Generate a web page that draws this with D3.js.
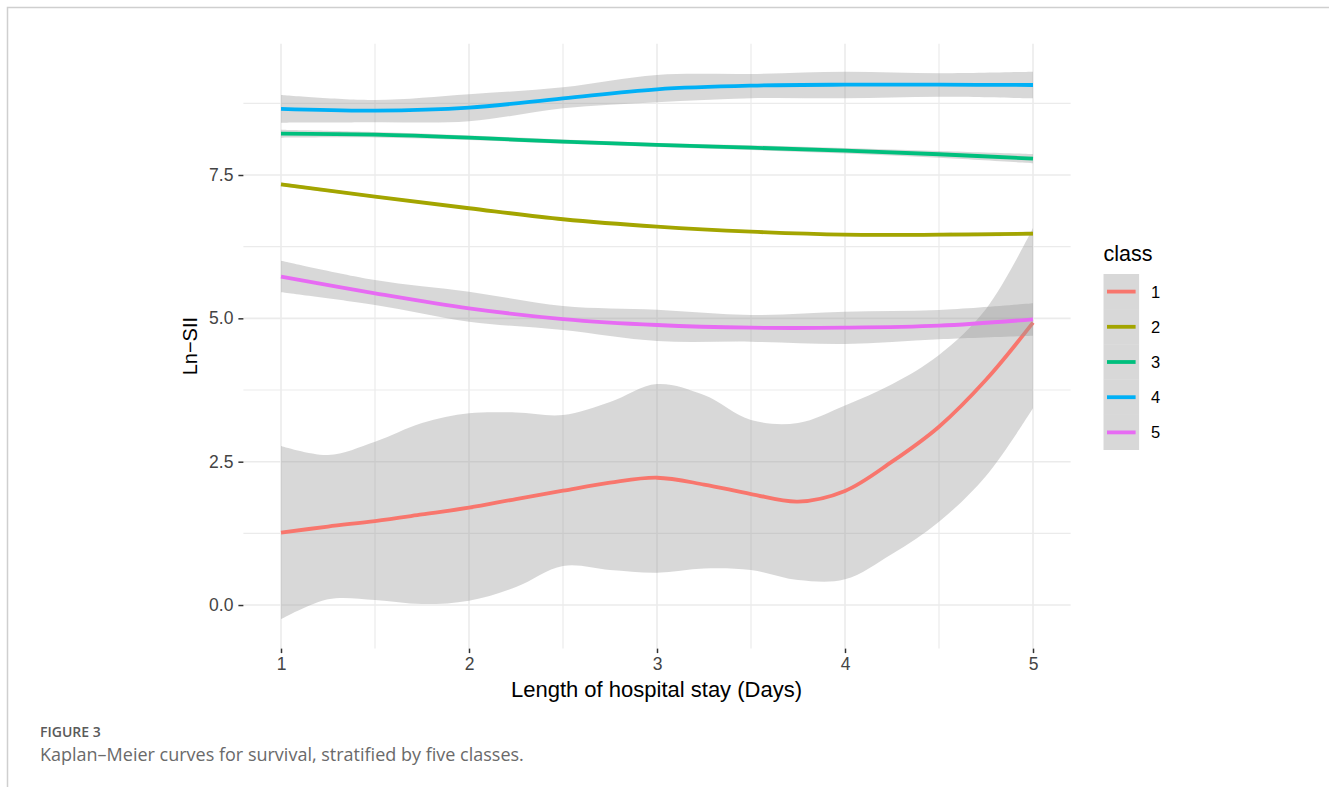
<!DOCTYPE html>
<html>
<head>
<meta charset="utf-8">
<script src="https://cdn.jsdelivr.net/npm/d3@7"></script>
<style>
  html, body { margin: 0; padding: 0; background: #fff; }
  svg { display: block; }
</style>
</head>
<body>
<svg id="chart" width="1329" height="787"></svg>
<script>
// ---------- data ----------
const classes = ["1", "2", "3", "4", "5"];
const colors = ["#F8766D", "#A3A500", "#00BF7D", "#00B0F6", "#E76BF3"];

const daysCoarse = [1, 1.5, 2, 2.5, 3, 3.5, 4, 4.5, 5];
const daysFine = [1, 1.25, 1.5, 1.75, 2, 2.25, 2.5, 2.75, 3, 3.25, 3.5, 3.75, 4, 4.25, 4.5, 4.75, 5];

// class 1 (fine grid)
const fit1 = [1.261, 1.369, 1.465, 1.579, 1.697, 1.849, 1.994, 2.133, 2.220, 2.102, 1.936, 1.805, 1.990, 2.500, 3.110, 3.928, 4.924];
const hi1  = [2.773, 2.616, 2.848, 3.175, 3.344, 3.358, 3.314, 3.541, 3.855, 3.663, 3.227, 3.175, 3.480, 3.850, 4.361, 5.163, 6.576];
const lo1  = [-0.249, 0.099, 0.087, 0.017, 0.075, 0.314, 0.680, 0.610, 0.563, 0.637, 0.610, 0.436, 0.448, 0.890, 1.453, 2.250, 3.431];

// class 2
const fit2 = [7.338, 7.122, 6.920, 6.728, 6.599, 6.511, 6.459, 6.459, 6.476];
const hi2  = [7.370, 7.145, 6.940, 6.750, 6.620, 6.535, 6.485, 6.490, 6.510];
const lo2  = [7.305, 7.100, 6.900, 6.705, 6.578, 6.487, 6.433, 6.428, 6.440];

// class 3
const fit3 = [8.221, 8.203, 8.151, 8.081, 8.024, 7.977, 7.924, 7.862, 7.785];
const hi3  = [8.290, 8.250, 8.190, 8.120, 8.060, 8.020, 7.970, 7.920, 7.865];
const lo3  = [8.150, 8.155, 8.110, 8.045, 7.990, 7.935, 7.875, 7.800, 7.705];

// class 4
const fit4 = [8.652, 8.622, 8.674, 8.838, 8.995, 9.058, 9.075, 9.075, 9.070];
const hi4  = [8.896, 8.809, 8.908, 9.030, 9.245, 9.263, 9.302, 9.274, 9.302];
const lo4  = [8.413, 8.420, 8.437, 8.664, 8.768, 8.838, 8.838, 8.866, 8.838];

// class 5
const fit5 = [5.726, 5.437, 5.175, 4.988, 4.884, 4.837, 4.837, 4.872, 4.983];
const hi5  = [6.006, 5.669, 5.465, 5.216, 5.151, 5.058, 5.116, 5.146, 5.263];
const lo5  = [5.454, 5.233, 4.942, 4.797, 4.605, 4.593, 4.553, 4.635, 4.697];

const xTicks = [1, 2, 3, 4, 5];
const xMinor = [1.5, 2.5, 3.5, 4.5];
const yTicks = [0, 2.5, 5.0, 7.5];
const yTickLabels = ["0.0", "2.5", "5.0", "7.5"];
const yMinor = [1.25, 3.75, 6.25, 8.75];

const xTitle = "Length of hospital stay (Days)";
const yTitle = "Ln\u2212SII";
const legendTitle = "class";
const figLabel = "FIGURE 3";
const figCaption = "Kaplan\u2013Meier curves for survival, stratified by five classes.";

// ---------- build series ----------
function build(days, fit, hi, lo) {
  return days.map((d, i) => ({ x: d, y: fit[i], hi: hi[i], lo: lo[i] }));
}
const series = [
  build(daysFine, fit1, hi1, lo1),
  build(daysCoarse, fit2, hi2, lo2),
  build(daysCoarse, fit3, hi3, lo3),
  build(daysCoarse, fit4, hi4, lo4),
  build(daysCoarse, fit5, hi5, lo5)
];

// ---------- layout ----------
const svg = d3.select("#chart");
const panel = { left: 243.4, right: 1070.6, top: 43.7, bottom: 648.6 };
const FONT = "'Liberation Sans', Arial, sans-serif";

const x = d3.scaleLinear().domain([0.8, 5.2]).range([panel.left, panel.right]);
const y = d3.scaleLinear().domain([-0.76, 9.79]).range([panel.bottom, panel.top]);

// figure frame
svg.append("path")
  .attr("d", "M7.5,787 L7.5,7.5 L1329,7.5")
  .attr("fill", "none").attr("stroke", "#cfcfcf").attr("stroke-width", 1.5);

// grid
const grid = svg.append("g");
grid.selectAll(".ymin").data(yMinor).join("line")
  .attr("x1", panel.left).attr("x2", panel.right)
  .attr("y1", d => y(d)).attr("y2", d => y(d))
  .attr("stroke", "#ebebeb").attr("stroke-width", 1.2);
grid.selectAll(".xmin").data(xMinor).join("line")
  .attr("y1", panel.top).attr("y2", panel.bottom)
  .attr("x1", d => x(d)).attr("x2", d => x(d))
  .attr("stroke", "#ebebeb").attr("stroke-width", 1.2);
grid.selectAll(".ymaj").data(yTicks).join("line")
  .attr("x1", panel.left).attr("x2", panel.right)
  .attr("y1", d => y(d)).attr("y2", d => y(d))
  .attr("stroke", "#ebebeb").attr("stroke-width", 1.6);
grid.selectAll(".xmaj").data(xTicks).join("line")
  .attr("y1", panel.top).attr("y2", panel.bottom)
  .attr("x1", d => x(d)).attr("x2", d => x(d))
  .attr("stroke", "#ebebeb").attr("stroke-width", 1.6);

// smooths
const area = d3.area().x(d => x(d.x)).y0(d => y(d.lo)).y1(d => y(d.hi)).curve(d3.curveCatmullRom.alpha(0.5));
const line = d3.line().x(d => x(d.x)).y(d => y(d.y)).curve(d3.curveCatmullRom.alpha(0.5));

const marks = svg.append("g");
series.forEach((s, i) => {
  marks.append("path").attr("d", area(s))
    .attr("fill", "#999999").attr("fill-opacity", 0.38).attr("stroke", "none");
  marks.append("path").attr("d", line(s))
    .attr("fill", "none").attr("stroke", colors[i]).attr("stroke-width", 3.8)
    .attr("stroke-linecap", "butt");
});

// axes
function styleTicks(g) {
  g.attr("font-size", null).attr("font-family", null);
  g.select(".domain").remove();
  g.selectAll(".tick line").attr("stroke", "#333").attr("stroke-width", 1.5);
  g.selectAll(".tick text")
    .style("font-family", FONT).style("font-size", "17.5px").style("fill", "#444");
}
const xAxis = d3.axisBottom(x).tickValues(xTicks).tickSize(4.5).tickPadding(4).tickFormat(d3.format("d"));
svg.append("g").attr("transform", `translate(0,${panel.bottom})`).call(xAxis).call(styleTicks);

const yAxis = d3.axisLeft(y).tickValues(yTicks).tickSize(5).tickPadding(5)
  .tickFormat((d, i) => yTickLabels[i]);
svg.append("g").attr("transform", `translate(${panel.left},0)`).call(yAxis).call(styleTicks);

// axis titles
svg.append("text").attr("x", 656.5).attr("y", 697)
  .attr("text-anchor", "middle").style("font-size", "22px")
  .style("font-family", FONT).attr("fill", "#000")
  .text(xTitle);
svg.append("text")
  .attr("transform", `translate(197,${(panel.top + panel.bottom) / 2}) rotate(-90)`)
  .attr("text-anchor", "middle").style("font-size", "20px")
  .style("font-family", FONT).attr("fill", "#000")
  .text(yTitle);

// legend
const lg = svg.append("g");
lg.append("text").attr("x", 1103.5).attr("y", 261).style("font-size", "21.5px")
  .style("font-family", FONT).attr("fill", "#000")
  .text(legendTitle);
const keyH = 35.2, keyW = 35.6, keyTop = 274, keyLeft = 1103.5;
classes.forEach((c, i) => {
  const ky = keyTop + i * keyH;
  lg.append("rect").attr("x", keyLeft).attr("y", ky).attr("width", keyW).attr("height", keyH)
    .attr("fill", "#999999").attr("fill-opacity", 0.38);
  lg.append("line").attr("x1", keyLeft + 3.5).attr("x2", keyLeft + keyW - 3.5)
    .attr("y1", ky + keyH / 2).attr("y2", ky + keyH / 2)
    .attr("stroke", colors[i]).attr("stroke-width", 3.8);
  lg.append("text").attr("x", 1151).attr("y", ky + keyH / 2 + 6)
    .style("font-size", "16.5px").style("font-family", FONT)
    .attr("fill", "#000").text(c);
});

// caption
svg.append("text").attr("x", 40).attr("y", 737).style("font-size", "14px")
  .style("font-family", "'Open Sans', sans-serif").attr("font-weight", 600)
  .attr("fill", "#5a5a5a").text(figLabel);
svg.append("text").attr("x", 40).attr("y", 761).style("font-size", "18px")
  .style("font-family", "'Open Sans', sans-serif")
  .attr("fill", "#6a6a6a").text(figCaption);
</script>
</body>
</html>
